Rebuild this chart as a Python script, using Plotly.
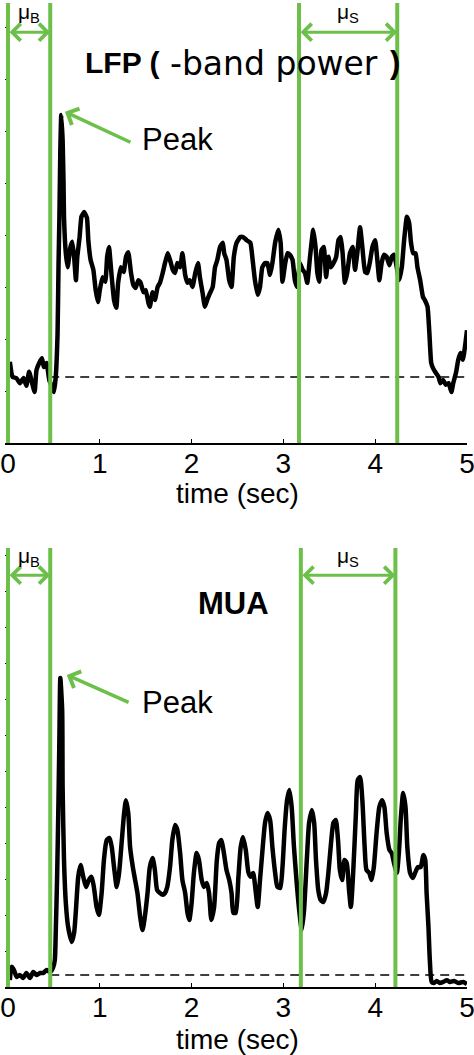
import plotly.graph_objects as go

# ---------------- data ----------------
lfp_time = [
    0.02, 0.05, 0.09, 0.13, 0.17, 0.20, 0.23, 0.26, 0.29, 0.31,
    0.34, 0.37, 0.39, 0.42, 0.45, 0.48, 0.50, 0.52, 0.54, 0.55,
    0.56, 0.57, 0.58, 0.595, 0.605, 0.61, 0.63, 0.65, 0.68, 0.70,
    0.72, 0.74, 0.755, 0.78, 0.80, 0.83, 0.86, 0.875, 0.90, 0.93,
    0.955, 0.98, 1.00, 1.03, 1.06, 1.08, 1.10, 1.13, 1.155, 1.18,
    1.20, 1.23, 1.26, 1.285, 1.31, 1.34, 1.365, 1.39, 1.42, 1.445,
    1.475, 1.50, 1.53, 1.545, 1.575, 1.60, 1.63, 1.655, 1.685, 1.71,
    1.74, 1.765, 1.795, 1.82, 1.845, 1.875, 1.90, 1.93, 1.955, 1.98,
    2.01, 2.04, 2.07, 2.09, 2.12, 2.145, 2.17, 2.20, 2.23, 2.255,
    2.28, 2.31, 2.34, 2.355, 2.38, 2.41, 2.435, 2.46, 2.49, 2.53,
    2.56, 2.60, 2.64, 2.665, 2.69, 2.72, 2.745, 2.77, 2.80, 2.825,
    2.855, 2.88, 2.91, 2.945, 2.97, 2.99, 3.02, 3.045, 3.07, 3.10,
    3.125, 3.15, 3.18, 3.21, 3.235, 3.26, 3.29, 3.325, 3.35, 3.37,
    3.39, 3.415, 3.44, 3.465, 3.49, 3.515, 3.545, 3.575, 3.60, 3.625,
    3.645, 3.67, 3.695, 3.725, 3.755, 3.78, 3.805, 3.835, 3.86, 3.89,
    3.915, 3.94, 3.97, 4.00, 4.02, 4.045, 4.07, 4.095, 4.125, 4.155,
    4.18, 4.205, 4.235, 4.26, 4.29, 4.315, 4.345, 4.37, 4.39, 4.415,
    4.44, 4.46, 4.49, 4.52, 4.54, 4.57, 4.59, 4.61, 4.63, 4.66,
    4.69, 4.71, 4.74, 4.77, 4.80, 4.83, 4.85, 4.88, 4.905, 4.93,
    4.955, 4.98, 5.00,
]
lfp_power = [
    1.56, 1.27, 1.25, 1.15, 1.25, 1.10, 1.37, 1.17, 0.98, 1.40,
    1.54, 1.63, 1.46, 1.54, 1.21, 1.08, 0.98, 1.27, 2.12, 3.38,
    4.35, 5.63, 6.31, 5.83, 5.00, 4.35, 3.65, 3.38, 3.77, 3.87,
    3.58, 3.13, 3.58, 3.96, 4.35, 4.44, 4.33, 3.90, 3.52, 3.33,
    2.94, 2.71, 2.94, 3.19, 3.10, 3.58, 3.77, 3.19, 2.75, 2.60,
    3.08, 3.38, 3.29, 3.58, 3.67, 3.27, 3.04, 2.98, 3.13, 3.08,
    2.90, 2.94, 2.69, 2.62, 2.90, 2.75, 3.00, 3.08, 3.27, 3.46,
    3.65, 3.52, 3.33, 3.27, 3.46, 3.38, 3.65, 3.23, 3.08, 3.13,
    3.00, 3.27, 3.46, 3.19, 2.88, 2.62, 2.75, 2.88, 3.00, 3.38,
    3.52, 3.77, 3.85, 3.65, 3.52, 3.13, 3.00, 3.58, 3.85, 3.96,
    3.96, 3.90, 3.85, 3.52, 3.13, 2.85, 3.00, 3.38, 3.46, 3.46,
    3.23, 3.46, 3.85, 4.10, 3.85, 3.10, 3.46, 3.65, 3.62, 3.52,
    3.13, 3.00, 3.46, 3.33, 3.27, 3.08, 3.58, 4.10, 3.77, 3.27,
    3.10, 3.71, 3.77, 3.19, 3.58, 3.38, 3.46, 3.58, 3.90, 3.96,
    3.65, 3.08, 3.27, 3.65, 3.77, 3.33, 3.65, 4.15, 3.77, 3.29,
    3.27, 3.46, 3.77, 3.90, 3.58, 3.13, 3.46, 3.62, 3.58, 3.42,
    3.58, 3.62, 3.38, 3.13, 3.38, 3.90, 4.35, 4.23, 3.85, 3.65,
    3.65, 3.38, 3.13, 2.81, 2.75, 2.62, 2.12, 1.54, 1.44, 1.35,
    1.27, 1.15, 1.21, 1.12, 1.15, 0.98, 1.15, 1.35, 1.60, 1.73,
    1.60, 1.88, 2.17,
]
lfp_baseline = 1.27

mua_time = [
    0.02, 0.04, 0.065, 0.095, 0.13, 0.165, 0.20, 0.24, 0.275, 0.31,
    0.35, 0.385, 0.42, 0.46, 0.49, 0.51, 0.52, 0.535, 0.55, 0.56,
    0.57, 0.59, 0.595, 0.61, 0.63, 0.655, 0.695, 0.72, 0.74, 0.765,
    0.79, 0.82, 0.85, 0.88, 0.91, 0.935, 0.965, 0.99, 1.02, 1.045,
    1.075, 1.105, 1.13, 1.155, 1.185, 1.21, 1.24, 1.265, 1.285, 1.31,
    1.33, 1.36, 1.385, 1.41, 1.44, 1.465, 1.49, 1.52, 1.545, 1.575,
    1.60, 1.625, 1.655, 1.685, 1.71, 1.735, 1.765, 1.79, 1.82, 1.845,
    1.875, 1.90, 1.93, 1.955, 1.975, 2.00, 2.025, 2.055, 2.08, 2.11,
    2.135, 2.165, 2.19, 2.215, 2.245, 2.275, 2.30, 2.325, 2.35, 2.38,
    2.41, 2.435, 2.455, 2.48, 2.51, 2.535, 2.56, 2.59, 2.62, 2.645,
    2.67, 2.70, 2.72, 2.745, 2.775, 2.80, 2.825, 2.855, 2.88, 2.91,
    2.935, 2.965, 2.99, 3.015, 3.04, 3.065, 3.09, 3.115, 3.145, 3.175,
    3.20, 3.225, 3.255, 3.28, 3.31, 3.335, 3.355, 3.38, 3.405, 3.435,
    3.465, 3.49, 3.515, 3.545, 3.57, 3.595, 3.615, 3.64, 3.665, 3.69,
    3.715, 3.735, 3.76, 3.79, 3.81, 3.835, 3.86, 3.885, 3.905, 3.935,
    3.96, 3.985, 4.015, 4.045, 4.075, 4.10, 4.125, 4.155, 4.18, 4.205,
    4.235, 4.26, 4.28, 4.305, 4.33, 4.35, 4.38, 4.41, 4.435, 4.465,
    4.495, 4.525, 4.545, 4.56, 4.58, 4.595, 4.615, 4.64, 4.67, 4.705,
    4.74, 4.78, 4.815, 4.86, 4.905, 4.96, 5.00,
]
mua_rate = [
    0.19, 0.56, 0.47, 0.28, 0.33, 0.25, 0.39, 0.25, 0.42, 0.33,
    0.39, 0.39, 0.47, 0.42, 0.53, 0.75, 1.50, 3.06, 5.19, 6.94,
    8.58, 7.69, 5.56, 3.53, 2.33, 1.67, 1.25, 1.50, 2.14, 3.06,
    3.39, 3.06, 2.78, 2.97, 3.06, 2.78, 2.22, 2.00, 2.61, 3.53,
    4.08, 4.14, 3.89, 3.33, 2.78, 3.17, 4.08, 4.83, 5.19, 4.83,
    3.89, 3.33, 2.97, 2.61, 1.94, 1.58, 1.94, 2.61, 3.33, 3.58,
    3.25, 2.69, 2.61, 2.56, 2.61, 2.78, 3.33, 4.08, 4.50, 4.36,
    3.72, 2.97, 2.61, 2.06, 1.86, 2.33, 3.17, 3.72, 3.53, 2.97,
    2.78, 2.89, 2.61, 1.86, 2.22, 3.53, 4.00, 4.08, 3.75, 3.25,
    2.97, 2.61, 2.06, 2.06, 3.06, 3.89, 4.17, 3.81, 3.17, 3.06,
    3.17, 2.61, 2.22, 2.97, 3.89, 4.56, 4.83, 4.64, 3.89, 3.17,
    2.78, 2.75, 3.33, 4.44, 5.19, 5.47, 5.00, 3.89, 2.89, 2.06,
    1.58, 2.14, 3.53, 4.56, 4.92, 4.56, 3.53, 2.69, 2.42, 2.36,
    2.61, 3.17, 3.89, 4.56, 4.64, 4.08, 3.25, 2.97, 3.53, 3.44,
    2.69, 2.22, 3.17, 4.83, 5.75, 5.83, 5.19, 3.89, 3.25, 3.17,
    2.97, 3.33, 4.28, 5.00, 5.19, 5.00, 4.28, 3.81, 3.72, 3.44,
    3.17, 3.81, 4.72, 5.39, 5.00, 3.89, 3.17, 3.03, 3.17, 3.33,
    3.33, 3.67, 3.53, 2.61, 1.67, 0.75, 0.14, 0.11, 0.17, 0.11,
    0.14, 0.19, 0.14, 0.17, 0.11, 0.14, 0.08,
]
mua_baseline = 0.33

# analysis windows (sec): baseline window (mu_B) and sustained window (mu_S)
lfp_windows = {"B": (0.0, 0.46), "S": (3.17, 4.24)}
mua_windows = {"B": (0.0, 0.46), "S": (3.19, 4.22)}
lfp_peak = (0.62, 6.37)
mua_peak = (0.64, 8.67)
x_ticks = [0, 1, 2, 3, 4, 5]
x_title = "time (sec)"

# ---------------- styling ----------------
W, H = 474, 1055
GREEN = "#6cc04a"
FONT = "Liberation Sans"
PX_PER_SEC = (467 - 8) / 5.0
X_PAD = 0.03  # small room left of t=0 so the green t=0 line is not clipped


def px_x(p):
    return p / W


def px_y(p):
    return 1 - p / H


fig = go.Figure()
fig.add_trace(go.Scatter(x=lfp_time, y=lfp_power, mode="lines",
                         line=dict(color="black", width=4.5, shape="spline", smoothing=0.4),
                         xaxis="x", yaxis="y", showlegend=False, hoverinfo="skip"))
fig.add_trace(go.Scatter(x=mua_time, y=mua_rate, mode="lines",
                         line=dict(color="black", width=4.5, shape="spline", smoothing=0.6),
                         xaxis="x2", yaxis="y2", showlegend=False, hoverinfo="skip"))

x_dom = [px_x(8 - X_PAD * PX_PER_SEC), px_x(467)]
xaxis_common = dict(range=[-X_PAD, 5], tickvals=x_ticks, ticktext=[str(t) for t in x_ticks],
                    showgrid=False, zeroline=False, showline=True, linecolor="black",
                    linewidth=1.5, ticks="inside", ticklen=4, tickcolor="black",
                    ticklabeloverflow="allow", automargin=False, ticklabelstandoff=-5,
                    tickfont=dict(family=FONT, size=28, color="black"),
                    domain=x_dom, fixedrange=True)
yaxis_common = dict(showgrid=False, zeroline=False, showline=False, ticks="inside",
                    ticklen=4, tickcolor="black", dtick=1, showticklabels=False,
                    automargin=False, fixedrange=True)

fig.update_layout(
    template="none",
    width=W, height=H, autosize=False,
    margin=dict(l=0, r=0, t=0, b=0, pad=0),
    paper_bgcolor="white", plot_bgcolor="white",
    xaxis=dict(anchor="y", **xaxis_common),
    yaxis=dict(anchor="x", domain=[px_y(443), px_y(3)], range=[0, 440 / 52], **yaxis_common),
    xaxis2=dict(anchor="y2", **xaxis_common),
    yaxis2=dict(anchor="x2", domain=[px_y(987), px_y(548)], range=[0, 439 / 36], **yaxis_common),
)

shapes = []
annotations = []
for xr, yr, wins, base, arrow_y, lab_py, peak, peak_tail, peak_text_y, title_py in [
    ("x", "y", lfp_windows, lfp_baseline, 7.9, 13, lfp_peak, (1.35, 5.77), 5.83, 493),
    ("x2", "y2", mua_windows, mua_baseline, 11.44, 557, mua_peak, (1.33, 7.89), 7.89, 1039),
]:
    # axis title
    annotations.append(dict(xref=xr, yref="paper", x=2.5, y=px_y(title_py), text=x_title,
                            showarrow=False, xanchor="center", yanchor="middle",
                            font=dict(family=FONT, size=28, color="black")))
    # dashed baseline
    shapes.append(dict(type="line", xref=xr, yref=yr, x0=wins["B"][1], x1=5,
                       y0=base, y1=base, line=dict(color="black", width=1.5, dash="9px,6px"),
                       layer="above"))
    for key, (a, b) in wins.items():
        for xv in (a, b):
            shapes.append(dict(type="line", xref=xr, yref=yr + " domain", x0=xv, x1=xv,
                               y0=0, y1=1, line=dict(color=GREEN, width=4), layer="above"))
        annotations.append(dict(xref=xr, yref=yr, axref=xr, ayref=yr, x=b, y=arrow_y,
                                ax=a, ay=arrow_y, text="", showarrow=True,
                                arrowside="end+start", arrowhead=4, startarrowhead=4,
                                arrowsize=1.1, startarrowsize=1.1,
                                arrowwidth=3, arrowcolor=GREEN, standoff=0, startstandoff=0))
        annotations.append(dict(xref=xr, yref="paper", x=(a + b) / 2, y=px_y(lab_py),
                                text="μ<sub>%s</sub>" % key, showarrow=False,
                                xanchor="center", yanchor="middle",
                                font=dict(family=FONT, size=21, color="black")))
    # peak arrow
    annotations.append(dict(xref=xr, yref=yr, axref=xr, ayref=yr, x=peak[0], y=peak[1],
                            ax=peak_tail[0], ay=peak_tail[1], text="", showarrow=True,
                            arrowhead=4, arrowsize=1.0, arrowwidth=3.5, arrowcolor=GREEN,
                            standoff=0))
    annotations.append(dict(xref=xr, yref=yr, x=1.44, y=peak_text_y, text="Peak",
                            showarrow=False, xanchor="left", yanchor="middle",
                            font=dict(family=FONT, size=31, color="black")))

# panel titles
annotations.append(dict(xref="paper", yref="paper", x=px_x(161), y=px_y(62),
                        text="<b>LFP (</b>", showarrow=False, xanchor="right",
                        yanchor="middle", font=dict(family=FONT, size=30, color="black")))
annotations.append(dict(xref="paper", yref="paper", x=px_x(168), y=px_y(64),
                        text="-band power", showarrow=False, xanchor="left",
                        yanchor="middle", font=dict(family="DejaVu Sans", size=33, color="black")))
annotations.append(dict(xref="paper", yref="paper", x=px_x(388), y=px_y(63),
                        text="<b>)</b>", showarrow=False, xanchor="left",
                        yanchor="middle", font=dict(family=FONT, size=31, color="black")))
annotations.append(dict(xref="paper", yref="paper", x=px_x(233), y=px_y(603),
                        text="<b>MUA</b>", showarrow=False, xanchor="center",
                        yanchor="middle", font=dict(family=FONT, size=31, color="black")))

fig.update_layout(shapes=shapes, annotations=annotations)
fig.write_html("out.html", config={"displayModeBar": False},
               post_script="document.body.style.margin='0';document.body.style.overflow='hidden';")
